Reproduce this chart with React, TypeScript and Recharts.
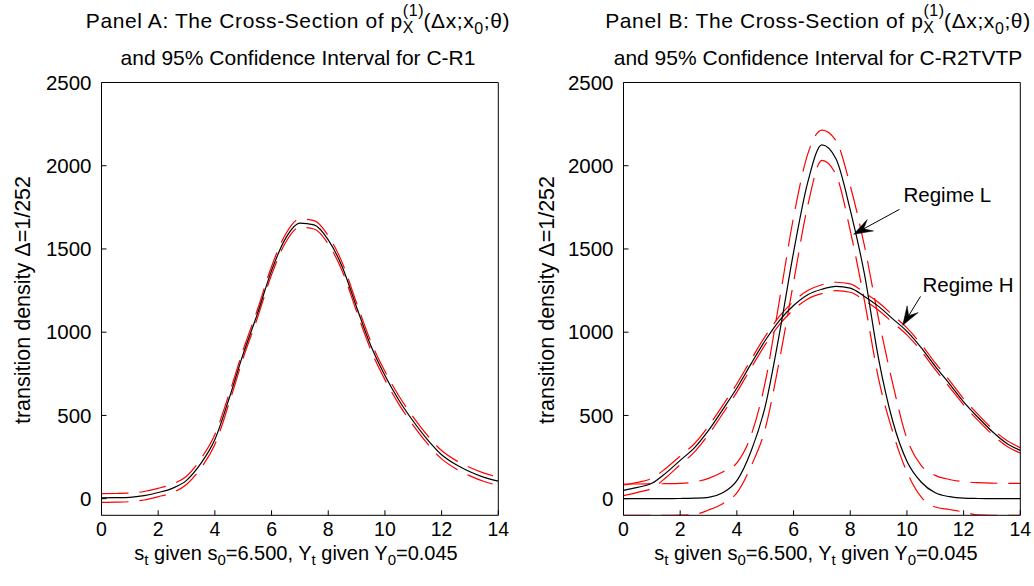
import { LineChart, Line, XAxis, YAxis, ReferenceLine, ReferenceDot } from "recharts";

// shared grid of s_t values
const xs = [0, 0.5, 1, 1.5, 2, 2.5, 3, 3.5, 4, 4.5, 5, 5.5, 6, 6.5, 7, 7.5, 8, 8.5, 9, 9.5, 10, 10.5, 11, 11.5, 12, 12.5, 13, 13.5, 14];

const xTicks = [0, 2, 4, 6, 8, 10, 12, 14];
const yTicks = [0, 500, 1000, 1500, 2000, 2500];

// Panel A: C-R1 density and its 95% band
const aMid = [5, 6, 8, 18, 37, 62, 110, 210, 355, 600, 870, 1110, 1370, 1565, 1655, 1645, 1555, 1390, 1150, 920, 740, 590, 465, 355, 264, 205, 162, 128, 105];
const aUp = [30, 31, 33, 43, 62, 88, 135, 238, 385, 628, 895, 1135, 1395, 1590, 1680, 1670, 1580, 1415, 1175, 945, 765, 615, 490, 380, 289, 230, 187, 153, 130];
const aLo = [-22, -21, -18, -8, 12, 36, 85, 182, 325, 572, 845, 1085, 1345, 1540, 1630, 1620, 1530, 1365, 1125, 895, 715, 565, 440, 330, 239, 180, 137, 103, 80];

// Panel B: regime L (narrow) and regime H (wide)
const lMid = [0, 0, 0, 0, 1, 3, 8, 35, 108, 285, 555, 990, 1480, 1900, 2125, 2040, 1735, 1350, 840, 465, 225, 100, 35, 12, 3, 1, 0, 0, 0];
const lUp = [88, 88, 89, 90, 92, 100, 122, 160, 215, 380, 700, 1190, 1690, 2070, 2214, 2150, 1880, 1520, 1080, 690, 360, 200, 140, 115, 102, 96, 93, 92, 92];
const lLo = [-100, -100, -100, -100, -99, -95, -68, -30, 35, 195, 420, 830, 1300, 1760, 2032, 1945, 1610, 1190, 720, 400, 160, 10, -50, -65, -80, -98, -100, -100, -100];

const hMid = [50, 68, 92, 155, 230, 305, 410, 535, 665, 810, 950, 1070, 1160, 1225, 1258, 1275, 1265, 1215, 1155, 1080, 1005, 908, 795, 690, 582, 490, 405, 335, 290];
const hUp = [82, 98, 122, 183, 256, 330, 435, 560, 690, 835, 975, 1095, 1185, 1250, 1285, 1300, 1290, 1238, 1178, 1102, 1026, 928, 815, 710, 600, 508, 422, 352, 306];
const hLo = [18, 38, 62, 127, 204, 280, 385, 510, 640, 785, 925, 1045, 1135, 1200, 1232, 1250, 1240, 1192, 1132, 1058, 984, 888, 775, 670, 564, 472, 388, 318, 274];

const dataA = xs.map((x, i) => ({ x, mid: aMid[i], up: aUp[i], lo: aLo[i] }));
const dataB = xs.map((x, i) => ({
  x, lMid: lMid[i], lUp: lUp[i], lLo: lLo[i], hMid: hMid[i], hUp: hUp[i], hLo: hLo[i],
}));

const FONT = '"Liberation Sans", Arial, sans-serif';
const FS = 20;
const TICK_FS = 19.5;
const TFS = 21;
const SUB = 16;
const RED = "#ff0000";
const DASH = "27 11";

const W = 517;
const H = 586;
const margin = { top: 77.5, right: 13.7, bottom: 40.7, left: 41.5 };

// filled MATLAB-style arrow from (x1,y1) to the tip (x2,y2)
const Arrow = (p: any) => {
  const { x1, y1, x2, y2 } = p;
  const dx = x2 - x1;
  const dy = y2 - y1;
  const len = Math.sqrt(dx * dx + dy * dy);
  const ux = dx / len;
  const uy = dy / len;
  const nx = -uy;
  const ny = ux;
  const hl = 19;
  const hw = 6.5;
  const bx = x2 - ux * hl;
  const by = y2 - uy * hl;
  const notchX = x2 - ux * hl * 0.6;
  const notchY = y2 - uy * hl * 0.6;
  const pts = [
    [x2, y2],
    [bx + nx * hw, by + ny * hw],
    [notchX, notchY],
    [bx - nx * hw, by - ny * hw],
  ].map((q) => q.join(",")).join(" ");
  return (
    <g>
      <line x1={x1} y1={y1} x2={notchX} y2={notchY} stroke="#000" strokeWidth={1} />
      <polygon points={pts} fill="#000" stroke="#000" strokeWidth={0.5} />
    </g>
  );
};

const labelShape = (text: string) => (p: any) => (
  <text x={p.cx} y={p.cy} fontSize={20.5} fontFamily={FONT} fill="#000">{text}</text>
);

const Axes = () => [
  <XAxis
    key="xb"
    type="number"
    dataKey="x"
    domain={[0, 14]}
    ticks={xTicks}
    allowDataOverflow
    height={30}
    stroke="#000"
    tickSize={-5}
    tickMargin={11.5}
    tick={{ fontSize: TICK_FS, fill: "#000", fontFamily: FONT }}
  />,
  <XAxis
    key="xt"
    xAxisId="top"
    orientation="top"
    type="number"
    dataKey="x"
    domain={[0, 14]}
    ticks={xTicks}
    allowDataOverflow
    height={5}
    stroke="#000"
    tickSize={-5}
    tick={false}
  />,
  <YAxis
    key="yl"
    type="number"
    domain={[-100, 2500]}
    ticks={yTicks}
    allowDataOverflow
    width={60}
    stroke="#000"
    tickSize={-5}
    tickMargin={15}
    tick={{ fontSize: 20.5, fill: "#000", fontFamily: FONT }}
  />,
  <YAxis
    key="yr"
    yAxisId="right"
    orientation="right"
    type="number"
    domain={[-100, 2500]}
    ticks={yTicks}
    allowDataOverflow
    width={5}
    stroke="#000"
    tickSize={-5}
    tick={false}
  />,
];

const band = (key: string) => (
  <Line
    key={key}
    type="monotone"
    dataKey={key}
    stroke={RED}
    strokeWidth={1.2}
    strokeDasharray={DASH}
    dot={false}
    activeDot={false}
    isAnimationActive={false}
  />
);

const center = (key: string) => (
  <Line
    key={key}
    type="monotone"
    dataKey={key}
    stroke="#000"
    strokeWidth={1.2}
    dot={false}
    activeDot={false}
    isAnimationActive={false}
  />
);

const PanelA = () => (
  <LineChart width={W} height={H} data={dataA} margin={margin}>
    {Axes()}
    {band("up")}
    {band("lo")}
    {center("mid")}
  </LineChart>
);

const PanelB = () => (
  <LineChart width={W} height={H} data={dataB} margin={margin}>
    {Axes()}
    {band("hUp")}
    {band("hLo")}
    {band("lUp")}
    {band("lLo")}
    {center("hMid")}
    {center("lMid")}
    <ReferenceLine segment={[{ x: 9.74, y: 1738 }, { x: 8.12, y: 1588 }]} shape={Arrow} />
    <ReferenceLine segment={[{ x: 10.48, y: 1215 }, { x: 9.85, y: 1041 }]} shape={Arrow} />
    <ReferenceDot x={9.88} y={1780} r={0} shape={labelShape("Regime L")} />
    <ReferenceDot x={10.55} y={1240} r={0} shape={labelShape("Regime H")} />
  </LineChart>
);

const Title = ({ cx, letter, model }: { cx: number; letter: string; model: string }) => (
  <g fontFamily={FONT} fill="#000">
    <text x={cx} y={28} textAnchor="middle" fontSize={TFS} letterSpacing={0.6}>
      {`Panel ${letter}: The Cross-Section of p`}
      <tspan fontSize={SUB} dy={-12}>(1)</tspan>
      <tspan fontSize={SUB} dx={-21.5} dy={17}>X</tspan>
      <tspan dx={9.5} dy={-5}>(Δx;x</tspan>
      <tspan fontSize={SUB} dy={6}>0</tspan>
      <tspan dy={-6}>;θ)</tspan>
    </text>
    <text x={cx} y={65} textAnchor="middle" fontSize={TFS}>
      {`and 95% Confidence Interval for ${model}`}
    </text>
  </g>
);

const XLabel = ({ cx }: { cx: number }) => (
  <text x={cx} y={560} textAnchor="middle" fontSize={FS} fontFamily={FONT} fill="#000">
    s<tspan fontSize={15} dy={5}>t</tspan>
    <tspan dy={-5}> given s</tspan>
    <tspan fontSize={15} dy={5}>0</tspan>
    <tspan dy={-5}>=6.500, Y</tspan>
    <tspan fontSize={15} dy={5}>t</tspan>
    <tspan dy={-5}> given Y</tspan>
    <tspan fontSize={15} dy={5}>0</tspan>
    <tspan dy={-5}>=0.045</tspan>
  </text>
);

const YLabel = ({ x }: { x: number }) => (
  <text
    x={x}
    y={300}
    transform={`rotate(-90 ${x} 300)`}
    textAnchor="middle"
    fontSize={21.5}
    fontFamily={FONT}
    fill="#000"
  >
    transition density Δ=1/252
  </text>
);

export default function App() {
  return (
    <div style={{ position: "absolute", left: 0, top: 0, width: 1034, height: 586, background: "#fff", overflow: "hidden" }}>
      <div style={{ position: "absolute", left: 0, top: 0 }}>
        <PanelA />
      </div>
      <div style={{ position: "absolute", left: 522, top: 0 }}>
        <PanelB />
      </div>
      <svg width={1034} height={586} style={{ position: "absolute", left: 0, top: 0, pointerEvents: "none" }}>
        <Title cx={298} letter="A" model="C-R1" />
        <Title cx={818} letter="B" model="C-R2TVTP" />
        <XLabel cx={296} />
        <XLabel cx={816} />
        <YLabel x={30} />
        <YLabel x={554} />
      </svg>
    </div>
  );
}
